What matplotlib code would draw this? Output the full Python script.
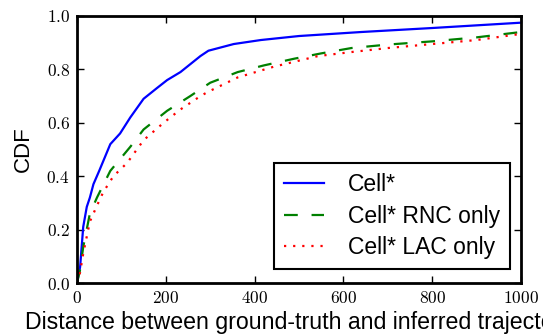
import matplotlib
matplotlib.use("Agg")
import matplotlib.pyplot as plt
from matplotlib.ticker import FuncFormatter

plt.rcParams['mathtext.fontset'] = 'cm'
plt.rcParams['font.family'] = ['Liberation Sans', 'DejaVu Sans']

# Data
cell_x = [0, 7, 14, 22, 29, 37, 50, 75, 97, 120, 150, 180, 203, 233, 278, 296, 353, 414, 500, 640, 800, 1000]
cell_y = [0.0, 0.06, 0.21, 0.285, 0.32, 0.37, 0.42, 0.52, 0.56, 0.62, 0.69, 0.73, 0.76, 0.79, 0.85, 0.87, 0.895, 0.91, 0.925, 0.94, 0.955, 0.975]

rnc_x = [0, 7, 14, 29, 45, 75, 120, 150, 203, 255, 300, 362, 421, 489, 550, 618, 700, 800, 900, 1000]
rnc_y = [0.0, 0.05, 0.135, 0.26, 0.32, 0.42, 0.51, 0.575, 0.645, 0.70, 0.75, 0.79, 0.815, 0.84, 0.86, 0.88, 0.893, 0.905, 0.92, 0.94]

lac_x = [0, 7, 14, 29, 45, 59, 82, 113, 150, 195, 233, 278, 294, 362, 443, 543, 618, 700, 800, 900, 1000]
lac_y = [0.0, 0.04, 0.11, 0.23, 0.29, 0.34, 0.40, 0.45, 0.535, 0.60, 0.65, 0.70, 0.715, 0.77, 0.81, 0.85, 0.865, 0.88, 0.895, 0.91, 0.933]

x_ticks = [0, 200, 400, 600, 800, 1000]
y_ticks = [0.0, 0.2, 0.4, 0.6, 0.8, 1.0]

fig = plt.figure(figsize=(5.43, 3.35), dpi=100)
ax = fig.add_axes([77/543, 1-283/335, (521-77)/543, (283-16)/335])

ax.plot(cell_x, cell_y, color='b', lw=1.6, label='Cell*')
ax.plot(rnc_x, rnc_y, color='g', lw=1.6, ls=(0, (6.2, 6.2)), label='Cell* RNC only')
ax.plot(lac_x, lac_y, color='r', lw=1.6, ls=(0, (1, 3.1)), label='Cell* LAC only')

ax.set_xlim(0, 1000)
ax.set_ylim(0, 1.0)
ax.set_xticks(x_ticks)
ax.set_yticks(y_ticks)
ax.xaxis.set_major_formatter(FuncFormatter(lambda v, p: r'$%d$' % v))
ax.yaxis.set_major_formatter(FuncFormatter(lambda v, p: r'$%.1f$' % v))
ax.tick_params(direction='in', length=5, width=1, top=True, right=True, labelsize=12.5, pad=5)
for s in ax.spines.values():
    s.set_linewidth(2)

ax.set_xlabel('Distance between ground-truth and inferred trajectory', fontsize=16.7, labelpad=4)
ax.set_ylabel('CDF', fontsize=16, labelpad=9)

leg = ax.legend(loc='lower right', fontsize=16.5, handlelength=1.75, fancybox=False,
                edgecolor='black', framealpha=1, borderpad=0.42, labelspacing=0.38,
                handletextpad=1.05, borderaxespad=0,
                bbox_to_anchor=((510-77)/444, (283-269)/267))
leg.get_frame().set_linewidth(1.5)

fig.savefig('out.png', dpi=100)
